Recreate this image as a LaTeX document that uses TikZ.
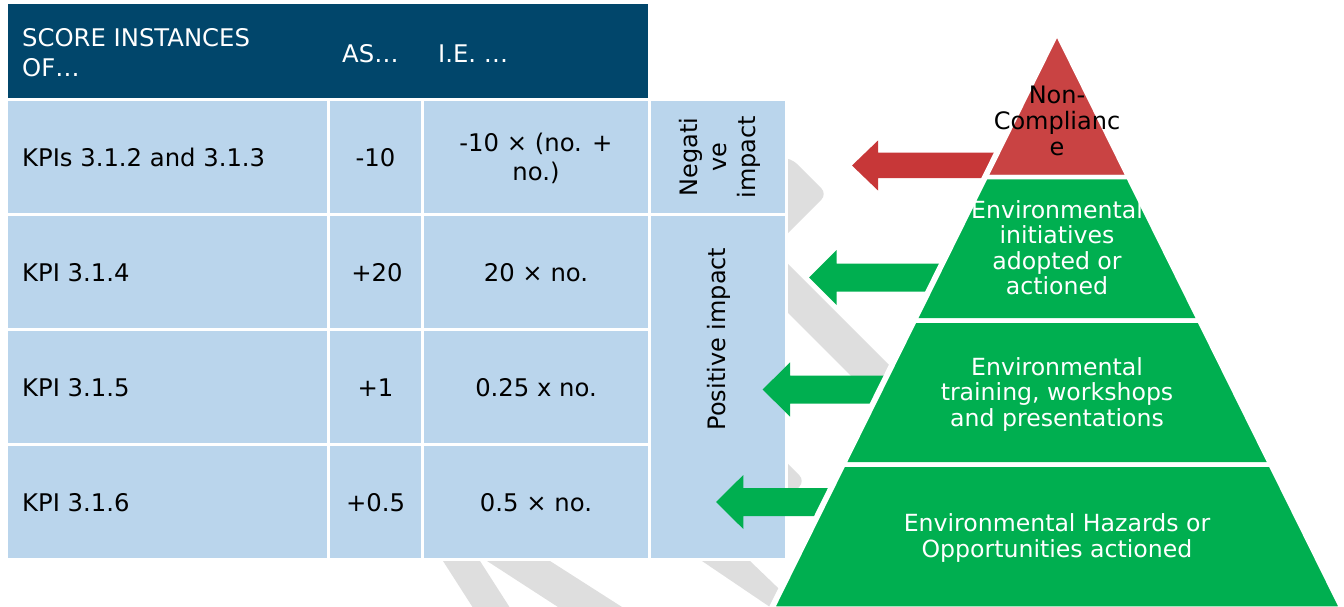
\documentclass[tikz,border=0pt]{standalone}
\usepackage{fontspec}
\setmainfont{DejaVu Sans}
\definecolor{hdrblue}{RGB}{1,70,107}
\definecolor{cellblue}{RGB}{186,213,236}
\definecolor{pyrred}{RGB}{201,67,67}
\definecolor{arrred}{RGB}{199,55,56}
\definecolor{pyrgreen}{RGB}{0,175,80}
\definecolor{wmgrey}{RGB}{222,222,222}
\begin{document}
\begin{tikzpicture}[x=1pt,y=-1pt,
  cell/.style={fill=cellblue, draw=white, line width=3pt},
  hdrcell/.style={fill=hdrblue, draw=white, line width=3pt},
  hdrtext/.style={font=\fontsize{24.3}{29}\selectfont, text=white, inner sep=0pt, anchor=base west},
  bodyleft/.style={font=\fontsize{24.3}{29}\selectfont, text=black, inner sep=0pt, anchor=base west},
  bodymid/.style={font=\fontsize{24.3}{29}\selectfont, text=black, inner sep=0pt, anchor=base},
  sidetext/.style={bodymid, font=\fontsize{24}{29}\selectfont, rotate=90},
  band/.style={draw=white, line width=4.5pt, line join=miter},
  levtext/.style={font=\fontsize{23.6}{26}\selectfont, text=white, inner sep=0pt, anchor=base},
  toptext/.style={font=\fontsize{24}{26}\selectfont, text=black, inner sep=0pt, anchor=base},
  blockarrow/.style={line join=miter},
  watermark/.style={fill=wmgrey}]
\useasboundingbox (0,0) rectangle (1344,607);

% light grey watermark pieces behind the table and pyramid
\path[watermark, rounded corners=8pt] (770,158) -- (791,158) -- (827,194) -- (770,251) -- cycle;
\path[watermark] (740,216) -- (930,406) -- (930,455) -- (740,265) -- cycle;
\path[watermark, rounded corners=8pt] (770,458) -- (782,458) -- (805,481) -- (770,516) -- cycle;
\path[watermark] (439.8,556) -- (476.8,556) -- (511.4,610) -- (474.4,610) -- cycle;
\path[watermark] (479.3,556) -- (542.2,556) -- (626.7,610) -- (562.6,610) -- cycle;
\path[watermark] (694.6,556) -- (744.8,556) -- (801,610) -- (774.4,610) -- cycle;

% score table
\path[hdrcell] (6.5,2.5) rectangle (649.5,99.5);
\foreach \ya/\yb in {99.5/214.5, 214.5/329.5, 329.5/444.5, 444.5/559.5}{
  \path[cell] (6.5,\ya) rectangle (328.5,\yb);
  \path[cell] (328.5,\ya) rectangle (422.5,\yb);
  \path[cell] (422.5,\ya) rectangle (649.5,\yb);
}
\path[cell] (649.5,99.5) rectangle (786.5,214.5);
\path[cell] (649.5,214.5) rectangle (786.5,559.5);

\node[hdrtext] (hscore) at (22,47) {SCORE INSTANCES};
\node[hdrtext] (hof) at (22,77) {OF…};
\node[hdrtext] (has) at (342,63) {AS…};
\node[hdrtext] (hie) at (438,63) {I.E. …};

\node[bodyleft] (k1) at (22,166.5) {KPIs 3.1.2 and 3.1.3};
\node[bodymid] (s1) at (375.5,166.5) {-10};
\node[bodymid] (f1a) at (536,151.5) {-10 × (no. +};
\node[bodymid] (f1b) at (536,180.5) {no.)};

\node[bodyleft] (k2) at (22,281.5) {KPI 3.1.4};
\node[bodymid] (s2) at (377,281.5) {+20};
\node[bodymid] (f2) at (536,281.5) {20 × no.};

\node[bodyleft] (k3) at (22,396.5) {KPI 3.1.5};
\node[bodymid] (s3) at (375.5,396.5) {+1};
\node[bodymid] (f3) at (536,396.5) {0.25 x no.};

\node[bodyleft] (k4) at (22,511.5) {KPI 3.1.6};
\node[bodymid] (s4) at (375.5,511.5) {+0.5};
\node[bodymid] (f4) at (536,511.5) {0.5 × no.};

\node[sidetext] (neg1) at (697,157) {Negati};
\node[sidetext] (neg2) at (726,157) {ve};
\node[sidetext] (neg3) at (755,157) {impact};
\node[sidetext] (pos) at (725.5,339) {Positive impact};

% block arrows from the pyramid levels to the table rows
\fill[arrred, blockarrow] (852,165.5) -- (878,140.5) -- (878,152.7) -- (994.8,152.7)
  -- (982.2,178.2) -- (878,178.2) -- (878,190.5) -- cycle;
\fill[pyrgreen, blockarrow] (809,277.5) -- (836.7,250) -- (836.7,263.5) -- (939.9,263.5)
  -- (926.1,291.5) -- (836.7,291.5) -- (836.7,305) -- cycle;
\fill[pyrgreen, blockarrow] (762.7,389.5) -- (790,362.3) -- (790,375.5) -- (884.5,375.5)
  -- (870.7,403.5) -- (790,403.5) -- (790,416.7) -- cycle;
\fill[pyrgreen, blockarrow] (716,502) -- (743.3,475) -- (743.3,488) -- (828.9,488)
  -- (815,516) -- (743.3,516) -- (743.3,529) -- cycle;

% pyramid
\draw[white, line width=7pt, line join=miter] (1057,32.93) -- (772.27,608.5) -- (1341.73,608.5) -- cycle;
\path[band, fill=pyrred] (1057,32.93) -- (985.73,177) -- (1128.27,177) -- cycle;
\path[band, fill=pyrgreen] (985.73,177) -- (914.74,320.5) -- (1199.26,320.5) -- (1128.27,177) -- cycle;
\path[band, fill=pyrgreen] (914.74,320.5) -- (843.5,464.5) -- (1270.5,464.5) -- (1199.26,320.5) -- cycle;
\path[band, fill=pyrgreen] (843.5,464.5) -- (772.27,608.5) -- (1341.73,608.5) -- (1270.5,464.5) -- cycle;

\node[toptext] (nc1) at (1057,103.3) {Non-};
\node[toptext] (nc2) at (1057,129.3) {Complianc};
\node[toptext] (nc3) at (1057,156) {e};

\node[levtext] (ia) at (1057,218.3) {Environmental};
\node[levtext] (ib) at (1057,243.7) {initiatives};
\node[levtext] (ic) at (1057,269.2) {adopted or};
\node[levtext] (id) at (1057,294.8) {actioned};

\node[levtext] (ta) at (1057,375) {Environmental};
\node[levtext] (tb) at (1057,400.5) {training, workshops};
\node[levtext] (tc) at (1057,426) {and presentations};

\node[levtext] (ha) at (1057,531.7) {Environmental Hazards or};
\node[levtext] (hb) at (1057,557.5) {Opportunities actioned};
\end{tikzpicture}
\end{document}
